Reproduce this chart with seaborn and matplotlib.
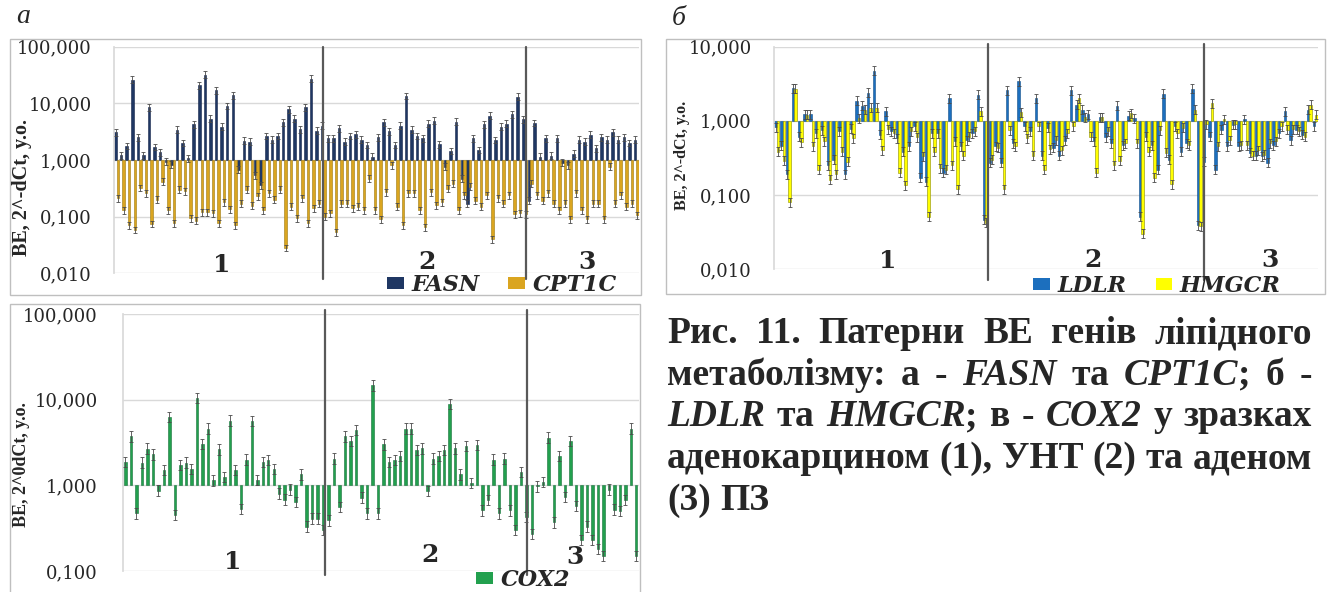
import numpy as np
import pandas as pd
import matplotlib
matplotlib.use("Agg")
import matplotlib.pyplot as plt
import matplotlib.transforms as mtransforms
from matplotlib.patches import Rectangle, Patch
import seaborn as sns

# ---------------- data ----------------
FASN = [3.1, 1.22, 1.77, 26, 2.5, 1.22, 8.5, 1.7, 1.37, 0.93,
        0.82, 3.4, 2.0, 1.07, 4.3, 21, 32, 5.4, 17, 3.9,
        9, 14, 0.67, 2.2, 2.1, 0.54, 0.36, 2.65, 2.3, 2.65,
        4.6, 7.8, 5.4, 3.5, 8.5, 27, 3.3, 4.0,
        2.4, 2.4, 3.6, 2.1, 2.65, 2.85, 2.3, 1.84, 1.15, 2.5,
        4.6, 3.2, 1.84, 4.0, 13.5, 3.4, 2.65, 2.4, 4.4, 4.9,
        1.9, 0.76, 1.44, 4.75, 0.47, 0.17, 2.4, 1.5, 4.3, 6.0,
        2.25, 3.9, 4.4, 6.4, 13, 5.2,
        0.19, 4.5, 1.15, 2.4, 1.2, 2.4, 0.9, 0.8, 1.3, 2.3,
        2.1, 2.8, 1.6, 2.5, 2.3, 3.1, 2.3, 2.5, 2.0, 2.3]
CPT1C = [0.21, 0.13, 0.07, 0.058, 0.32, 0.26, 0.074, 0.2, 0.41, 0.13,
         0.076, 0.3, 0.28, 0.094, 0.085, 0.12, 0.12, 0.115, 0.076, 0.18,
         0.135, 0.07, 0.17, 0.3, 0.155, 0.23, 0.13, 0.26, 0.2, 0.3,
         0.028, 0.15, 0.094, 0.21, 0.076, 0.14, 0.17, 0.1,
         0.115, 0.053, 0.17, 0.17, 0.14, 0.15, 0.13, 0.47, 0.13, 0.09,
         0.27, 0.8, 0.15, 0.07, 0.26, 0.26, 0.13, 0.065, 0.27, 0.16,
         0.18, 0.31, 0.38, 0.13, 0.24, 0.34, 0.19, 0.15, 0.24, 0.04,
         0.21, 0.17, 0.24, 0.11, 0.115, 0.11,
         0.38, 0.24, 0.19, 0.26, 0.17, 0.13, 0.17, 0.09, 0.26, 0.13,
         0.09, 0.17, 0.17, 0.09, 0.76, 0.17, 0.24, 0.15, 0.17, 0.105]
LDLR = [0.82, 0.46, 0.19, 2.76, 0.61, 1.23, 1.23, 0.68, 0.74, 0.25,
        0.3, 0.72, 0.19, 0.78, 1.86, 1.6, 2.4, 4.7, 0.65, 1.34,
        0.72, 0.58, 0.385, 0.45, 0.84, 0.17, 0.15, 0.68, 0.68, 0.2,
        2.0, 0.53, 0.45, 0.55, 0.68, 2.25, 0.046,
        0.27, 0.45, 0.27, 2.6, 0.5, 3.4, 0.84, 0.72, 2.0, 0.34,
        0.8, 0.43, 0.34, 0.54, 2.6, 1.65, 1.4, 1.23, 0.53, 1.12,
        0.6, 0.5, 1.6, 0.47, 1.17, 1.09, 0.051, 0.61, 0.47, 0.22,
        2.3, 0.3, 0.84, 0.385, 0.5, 2.7, 0.039,
        0.28, 0.61, 0.22, 0.76, 0.45, 0.88, 0.45, 1.05, 0.37, 0.34,
        0.33, 0.27, 0.47, 0.68, 1.34, 0.55, 0.76, 0.65, 1.4, 0.84]
HMGCR = [0.385, 0.29, 0.079, 2.7, 0.51, 1.2, 0.45, 0.22, 0.53, 0.16,
         0.19, 0.385, 0.28, 0.58, 1.09, 1.4, 1.5, 1.5, 0.4, 0.77,
         0.68, 0.2, 0.135, 0.72, 0.6, 0.33, 0.051, 0.385, 0.23, 0.22,
         0.25, 0.12, 0.34, 0.61, 0.72, 1.34, 0.042,
         0.3, 0.43, 0.12, 0.74, 0.45, 1.3, 0.58, 0.34, 0.84, 0.22,
         0.41, 0.55, 0.4, 0.68, 0.84, 2.0, 1.12, 0.61, 0.2, 1.12,
         0.72, 0.25, 0.29, 0.5, 1.27, 0.5, 0.03, 0.385, 0.17, 0.75,
         0.37, 0.14, 0.68, 0.8, 0.47, 1.4, 0.038,
         0.9, 1.73, 0.45, 1.05, 0.55, 0.9, 0.47, 0.47, 0.34, 0.4,
         0.35, 0.5, 0.53, 0.84, 0.76, 0.77, 0.72, 0.61, 1.65, 1.2]
COX2 = [1.87, 3.73, 0.47, 1.84, 2.68, 2.3, 0.87, 1.52, 6.3, 0.45,
        1.74, 1.84, 1.54, 10.4, 3.06, 4.6, 1.14, 2.63, 1.25, 5.7,
        1.5, 0.53, 2.0, 5.6, 1.16, 1.87, 1.96, 1.54, 0.8, 0.68,
        0.89, 0.64, 1.34, 0.33, 0.41, 0.41, 0.3,
        0.39, 2.05, 0.56, 3.73, 3.3, 4.4, 0.72, 0.47, 14.7, 0.47,
        3.0, 1.87, 1.96, 2.2, 4.6, 4.6, 2.6, 2.7, 0.86, 2.05,
        2.2, 2.6, 8.9, 2.7, 1.34, 2.9, 1.06, 2.98, 0.51, 0.67,
        2.0, 0.47, 2.05, 0.51, 0.3, 1.43,
        0.43, 0.27, 0.97, 1.09, 3.6, 0.37, 2.2, 0.73, 3.3, 0.57,
        0.23, 0.33, 0.23, 0.18, 0.15, 0.89, 0.52, 0.5, 0.67, 4.6, 0.15]

GROUP_LABELS = ["1", "2", "3"]
TICKS_A = [0.01, 0.1, 1, 10, 100]
TICK_LABELS_A = ["0,010", "0,100", "1,000", "10,000", "100,000"]
TICKS_B = [0.01, 0.1, 1, 10]
TICK_LABELS_B = ["0,010", "0,100", "1,000", "10,000"]
TICKS_C = [0.1, 1, 10, 100]
TICK_LABELS_C = ["0,100", "1,000", "10,000", "100,000"]
YLABEL_AB = "BE, 2^-dCt, y.o."
YLABEL_C = "BE, 2^0dCt, y.o."
PANEL_LABELS = ["а", "б"]
CAPTION = [
    [("Рис. 11. Патерни ВЕ генів ліпідного", False)],
    [("метаболізму: а - ", False), ("FASN", True), (" та ", False),
     ("CPT1C", True), ("; б -", False)],
    [("LDLR", True), (" та ", False), ("HMGCR", True), ("; в - ", False),
     ("COX2", True), (" у зразках", False)],
    [("аденокарцином (1), УНТ (2) та аденом", False)],
    [("(3) ПЗ", False)],
]
BASE = 1.0      # bars start from the 1,000 line
ERR = 1.15      # relative size of the small error whiskers

# ---------------- style ----------------
COLORS = {"FASN": "#1F3763", "CPT1C": "#DAA520", "LDLR": "#1C6FBE",
          "HMGCR": "#FFFF00", "COX2": "#22A04E"}
EDGES = {"FASN": "#14244A", "CPT1C": "#9C7A10", "LDLR": "#124E88",
         "HMGCR": "#8A8A00", "COX2": "#17703A"}
SERIF = "Liberation Serif"
WIDE = "DejaVu Serif"

W, H = 1330, 592
sns.set_theme(style="white")
plt.rcParams["font.family"] = [SERIF, "DejaVu Serif"]
fig = plt.figure(figsize=(W / 100, H / 100), dpi=100)
fig.patch.set_facecolor("white")


def fig_rect(x0, y0, x1, y1):
    return [x0 / W, 1 - y1 / H, (x1 - x0) / W, (y1 - y0) / H]


def fx(x):
    return x / W


def fy(y):
    return 1 - y / H


def frame(x0, y0, x1, y1):
    fig.add_artist(Rectangle((fx(x0), fy(y1)), (x1 - x0) / W, (y1 - y0) / H,
                             transform=fig.transFigure, fill=False,
                             ec="#BFBFBF", lw=1.0))


def panel(rect, genes, series, width, ticks, tlabels, bounds, line_span,
          legend_xy, legend_kw, tick_pad):
    ax = fig.add_axes(fig_rect(*rect))
    parts = [pd.DataFrame({"sample": np.arange(len(v)), "gene": g, "value": v})
             for g, v in zip(genes, series)]
    df = pd.concat(parts, ignore_index=True)
    df["rise"] = df["value"] - BASE
    sns.barplot(data=df, x="sample", y="rise", hue="gene", hue_order=genes,
                palette={g: COLORS[g] for g in genes}, saturation=1,
                width=width, gap=0, errorbar=None, bottom=BASE,
                linewidth=0.4, ax=ax, legend=False, zorder=2)
    bars = list(ax.containers)
    for cont, g in zip(bars, genes):
        for r in cont:
            r.set_edgecolor(EDGES[g])
    ax.set_yscale("log")
    ax.set_ylim(ticks[0], ticks[-1])
    n = len(series[0])
    ax.set_xlim(-0.5, n - 0.5)
    for cont in bars:
        xs = np.array([r.get_x() + r.get_width() / 2 for r in cont])
        tips = np.array([r.get_y() + r.get_height() for r in cont])
        ax.errorbar(xs, tips, yerr=[tips - tips / ERR, tips * ERR - tips],
                    fmt="none", ecolor="#4A4A4A", elinewidth=0.6,
                    capsize=1.3, capthick=0.6, zorder=3)
    ax.set_yticks(ticks, tlabels)
    ax.minorticks_off()
    for lbl in ax.get_yticklabels():
        lbl.set_fontfamily(WIDE)
        lbl.set_fontsize(13)
    ax.tick_params(axis="y", length=0, pad=tick_pad)
    ax.set_xticks([])
    ax.set_xlabel("")
    ax.set_ylabel("")
    ax.grid(False)
    ax.yaxis.grid(True, color="#D9D9D9", lw=1.0)
    ax.set_axisbelow(True)
    for s in ["top", "right", "bottom"]:
        ax.spines[s].set_visible(False)
    ax.spines["left"].set_color("#D9D9D9")
    ax.patch.set_alpha(0)
    trans = mtransforms.blended_transform_factory(ax.transData, ax.transAxes)
    for b in bounds:
        ax.plot([b, b], line_span, transform=trans, color="#595959", lw=1.6,
                clip_on=False, zorder=4)
    handles = [Patch(facecolor=COLORS[g], edgecolor="none") for g in genes]
    ax.legend(handles, genes, loc="center",
              bbox_to_anchor=(fx(legend_xy[0]), fy(legend_xy[1])),
              bbox_transform=fig.transFigure, ncol=len(genes), frameon=False,
              prop={"family": WIDE, "style": "italic", "weight": "bold",
                    "size": 16},
              borderpad=0, borderaxespad=0, **legend_kw)
    return ax


leg_kw = dict(handlelength=0.75, handleheight=0.4, handletextpad=0.35,
              columnspacing=1.3)

# frames
frame(10, 39, 641, 295)
frame(666, 39, 1325, 294)
frame(10, 304, 640, 598)

# panel а
panel((114, 46.7, 639, 273.3), ["FASN", "CPT1C"], [FASN, CPT1C], 0.9,
      TICKS_A, TICK_LABELS_A, [36.9, 73.3], [1.0, -0.025], (502, 285), leg_kw,
      16)
# panel б
panel((774, 46.7, 1318, 269), ["LDLR", "HMGCR"], [LDLR, HMGCR], 0.85,
      TICKS_B, TICK_LABELS_B, [36.5, 73.8], [1.01, -0.05], (1157, 286), leg_kw,
      16)
# panel в
panel((122.7, 314, 639, 571), ["COX2"], [COX2], 0.45,
      TICKS_C, TICK_LABELS_C, [36.3, 73.1], [1.016, -0.016], (523, 580), leg_kw,
      18)

# y labels
fig.text(fx(22), fy(188), YLABEL_AB, rotation=90, ha="center", va="center",
         fontsize=14.5, weight="bold", family=SERIF)
fig.text(fx(682), fy(155), YLABEL_AB, rotation=90, ha="center", va="center",
         fontsize=11.5, weight="bold", family=SERIF)
fig.text(fx(22), fy(465), YLABEL_C, rotation=90, ha="center", va="center",
         fontsize=13, weight="bold", family=SERIF)

# group labels
grp_pos = [[(222, 265), (427, 262), (587, 262)],
           [(888, 261), (1093, 260), (1270, 260)],
           [(233, 562), (430, 555), (575, 557)]]
for row in grp_pos:
    for lab, (x, y) in zip(GROUP_LABELS, row):
        fig.text(fx(x), fy(y), lab, ha="center", va="center", fontsize=18,
                 weight="bold", family=WIDE)

# panel letters
fig.text(fx(16), fy(23), PANEL_LABELS[0], ha="left", va="baseline",
         fontsize=20, style="italic", family=SERIF)
fig.text(fx(672), fy(25), PANEL_LABELS[1], ha="left", va="baseline",
         fontsize=20, style="italic", family=SERIF)

# caption: justified lines with mixed upright / italic runs
renderer = fig.canvas.get_renderer()
CAP_SIZE = 27
CAP_X0, CAP_X1 = 667.0, 1312.0


def cap_kw(italic):
    return dict(fontsize=CAP_SIZE, weight="bold", family=SERIF,
                style="italic" if italic else "normal")


def run_width(s, italic):
    t1 = fig.text(0, 0, s + "|", **cap_kw(italic))
    w1 = t1.get_window_extent(renderer).width
    t1.remove()
    t2 = fig.text(0, 0, "|", **cap_kw(italic))
    w2 = t2.get_window_extent(renderer).width
    t2.remove()
    return w1 - w2


def split_words(line):
    words, cur = [], []
    for s, it in line:
        pieces = s.split(" ")
        for j, p in enumerate(pieces):
            if j > 0:
                if cur:
                    words.append(cur)
                cur = []
            if p:
                cur.append((p, it))
    if cur:
        words.append(cur)
    return words


space_w = run_width(" ", False)
base_y = 343.0
for k, line in enumerate(CAPTION):
    words = split_words(line)
    widths = [sum(run_width(p, it) for p, it in w) for w in words]
    last = k == len(CAPTION) - 1
    if last or len(words) < 2:
        gap = space_w
    else:
        gap = (CAP_X1 - CAP_X0 - sum(widths)) / (len(words) - 1)
    x = CAP_X0
    y = base_y + 41.7 * k
    for w, wd in zip(words, widths):
        xx = x
        for p, it in w:
            fig.text(fx(xx), fy(y), p, ha="left", va="baseline", **cap_kw(it))
            xx += run_width(p, it)
        x += wd + gap

fig.savefig("out.png", dpi=100, facecolor="white")
